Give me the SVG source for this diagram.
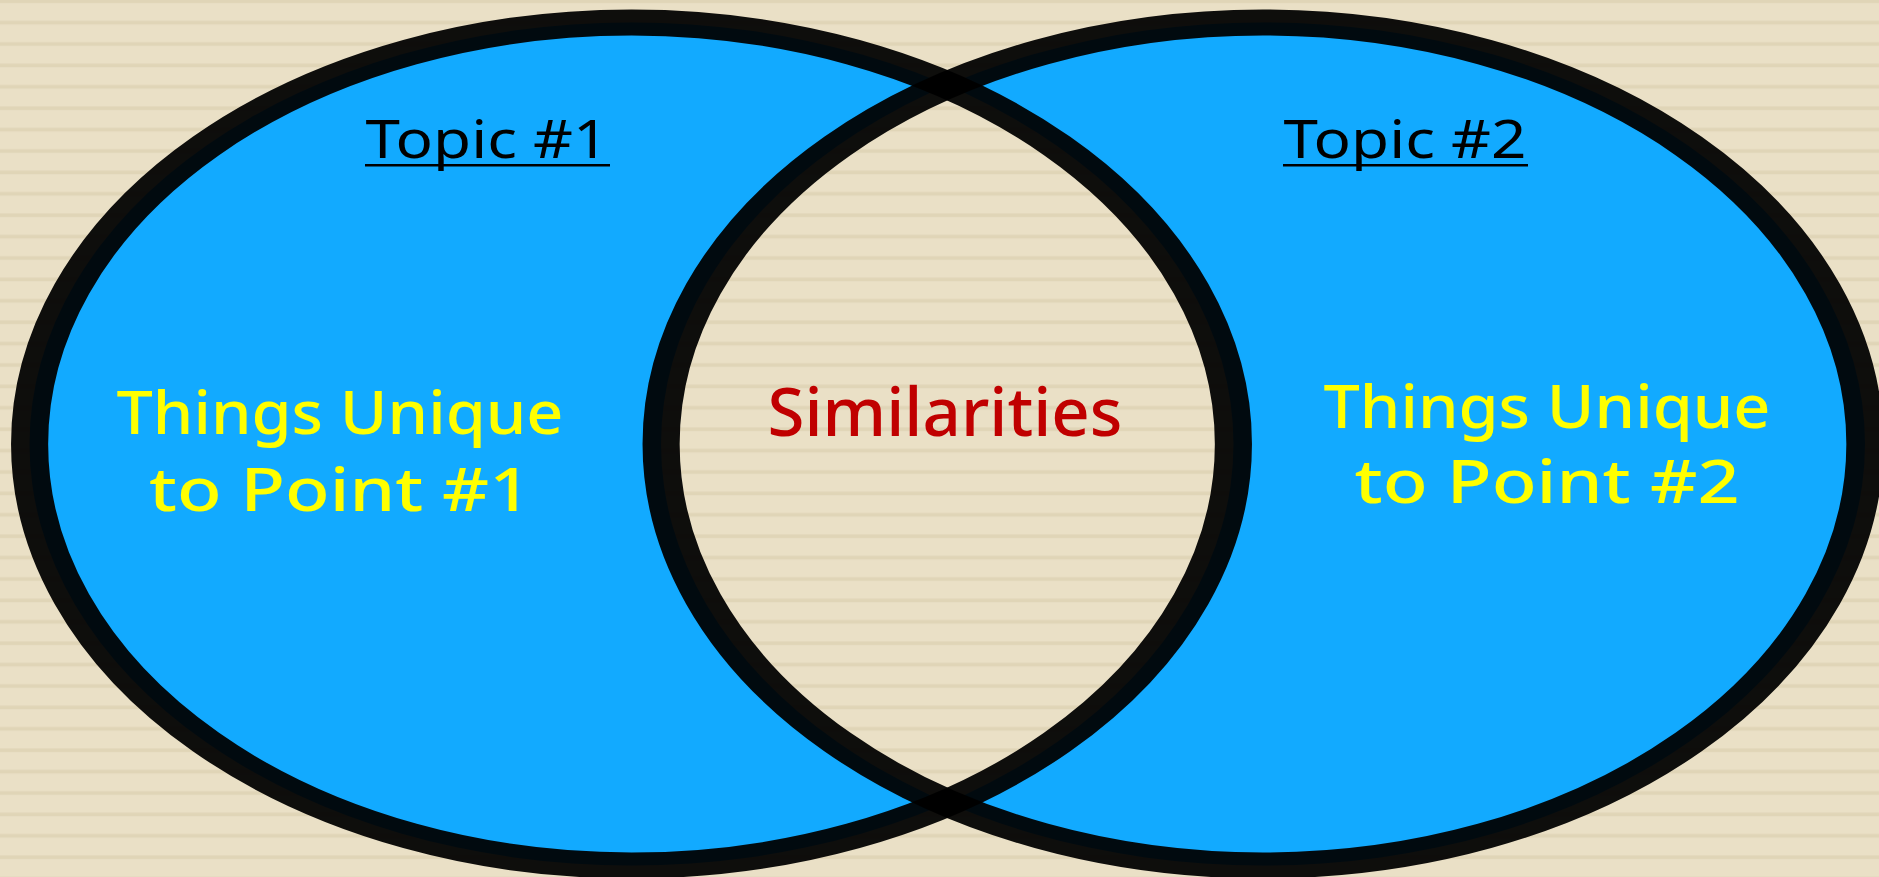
<svg xmlns="http://www.w3.org/2000/svg" width="1879" height="877" viewBox="0 0 1879 877">
  <style>
    .fill { fill: #12AAFF; }
    .ring { fill: none; stroke: #000; stroke-opacity: 0.94; stroke-width: 26; }
    .hand { font-family: "Segoe Print", "Comic Sans MS", "Noto Sans", "DejaVu Sans", sans-serif; text-anchor: middle; }
    .topic { font-size: 52px; fill: #000; }
    .unique { font-size: 60px; fill: #FFFF00; font-weight: 500; }
    .sim { font-size: 68px; fill: #C00000; font-weight: 500; }
  </style>
  <defs>
    <pattern id="stripes" patternUnits="userSpaceOnUse" x="0" y="-1" width="40" height="21.4">
      <rect x="0" y="0" width="40" height="21.4" fill="#EAE0C6"/>
      <rect x="0" y="0.4" width="40" height="3.6" fill="#E0D5B7"/>
    </pattern>
    <clipPath id="leftClip">
      <ellipse cx="631.5" cy="444" rx="602" ry="421.5"/>
    </clipPath>
  </defs>

  <rect id="background" x="0" y="0" width="1879" height="877" fill="url(#stripes)"/>

  <g id="fills">
    <ellipse class="fill" cx="631.5" cy="444" rx="602" ry="421.5"/>
    <ellipse class="fill" cx="1263" cy="444" rx="602" ry="421.5"/>
    <ellipse cx="1263" cy="444" rx="602" ry="421.5" fill="url(#stripes)" clip-path="url(#leftClip)"/>
  </g>

  <g id="rings">
    <circle class="ring" r="421.5" transform="translate(631.5,444) scale(1.428,1)"/>
    <circle class="ring" r="421.5" transform="translate(1263,444) scale(1.428,1)"/>
  </g>

  <g id="topic1">
    <text class="hand topic" x="487" y="158" textLength="243" lengthAdjust="spacingAndGlyphs">Topic #1</text>
    <rect x="365" y="164" width="245" height="2.5" fill="#000"/>
    <text class="hand unique" x="340" y="434" textLength="447" lengthAdjust="spacingAndGlyphs">Things Unique</text>
    <text class="hand unique" x="340" y="511" textLength="382" lengthAdjust="spacingAndGlyphs">to Point #1</text>
  </g>

  <g id="similarities">
    <text class="hand sim" x="945" y="436" textLength="355" lengthAdjust="spacingAndGlyphs">Similarities</text>
  </g>

  <g id="topic2">
    <text class="hand topic" x="1405" y="158" textLength="243" lengthAdjust="spacingAndGlyphs">Topic #2</text>
    <rect x="1283" y="164" width="245" height="2.5" fill="#000"/>
    <text class="hand unique" x="1547" y="428" textLength="447" lengthAdjust="spacingAndGlyphs">Things Unique</text>
    <text class="hand unique" x="1547" y="503" textLength="385" lengthAdjust="spacingAndGlyphs">to Point #2</text>
  </g>
</svg>
